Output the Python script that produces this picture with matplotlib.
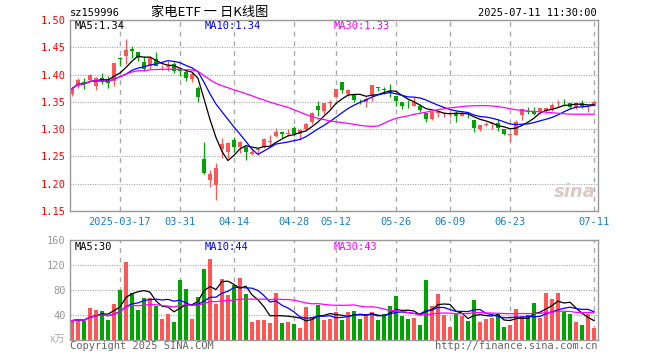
import numpy as np
import pandas as pd
import matplotlib
matplotlib.use("Agg")
import matplotlib.pyplot as plt

# trading days shown (weekdays minus exchange holidays)
holidays = ["2025-04-04", "2025-05-01", "2025-05-02", "2025-05-05", "2025-06-02"]
dates = pd.bdate_range("2025-03-05", "2025-07-11")
dates = dates[~dates.isin(pd.to_datetime(holidays))]

opens = [1.365, 1.379, 1.386, 1.390, 1.379, 1.394, 1.391, 1.389, 1.430, 1.434,
         1.446, 1.442, 1.423, 1.416, 1.428, 1.413, 1.414, 1.419, 1.409, 1.404,
         1.392, 1.376, 1.245, 1.206, 1.198, 1.263, 1.258, 1.280, 1.267, 1.268,
         1.254, 1.261, 1.268, 1.276, 1.287, 1.295, 1.291, 1.302, 1.292, 1.300,
         1.313, 1.342, 1.333, 1.348, 1.359, 1.387, 1.365, 1.365, 1.352, 1.349,
         1.360, 1.377, 1.373, 1.369, 1.361, 1.350, 1.343, 1.343, 1.343, 1.329,
         1.318, 1.330, 1.329, 1.329, 1.329, 1.324, 1.328, 1.317, 1.301, 1.308,
         1.310, 1.311, 1.301, 1.289, 1.290, 1.326, 1.334, 1.333, 1.333, 1.333,
         1.336, 1.347, 1.350, 1.348, 1.340, 1.347, 1.342, 1.343]
highs = [1.377, 1.393, 1.394, 1.401, 1.395, 1.402, 1.398, 1.421, 1.432, 1.465,
         1.453, 1.442, 1.434, 1.434, 1.441, 1.418, 1.425, 1.423, 1.413, 1.410,
         1.404, 1.379, 1.277, 1.226, 1.238, 1.284, 1.277, 1.286, 1.278, 1.270,
         1.265, 1.266, 1.283, 1.289, 1.303, 1.297, 1.300, 1.306, 1.300, 1.311,
         1.332, 1.351, 1.348, 1.353, 1.373, 1.387, 1.374, 1.365, 1.356, 1.358,
         1.381, 1.377, 1.377, 1.382, 1.361, 1.350, 1.353, 1.359, 1.346, 1.329,
         1.333, 1.333, 1.332, 1.332, 1.333, 1.333, 1.330, 1.317, 1.308, 1.313,
         1.313, 1.318, 1.301, 1.291, 1.316, 1.338, 1.341, 1.340, 1.338, 1.338,
         1.348, 1.353, 1.356, 1.348, 1.350, 1.353, 1.344, 1.352]
lows = [1.360, 1.376, 1.374, 1.389, 1.371, 1.383, 1.375, 1.379, 1.416, 1.420,
        1.430, 1.424, 1.406, 1.410, 1.415, 1.409, 1.407, 1.402, 1.398, 1.389,
        1.386, 1.350, 1.217, 1.194, 1.170, 1.248, 1.248, 1.258, 1.256, 1.244,
        1.252, 1.253, 1.266, 1.271, 1.286, 1.284, 1.287, 1.287, 1.280, 1.296,
        1.309, 1.325, 1.328, 1.339, 1.357, 1.367, 1.360, 1.350, 1.346, 1.341,
        1.352, 1.369, 1.365, 1.359, 1.342, 1.336, 1.338, 1.342, 1.331, 1.314,
        1.316, 1.322, 1.322, 1.322, 1.313, 1.324, 1.320, 1.295, 1.297, 1.305,
        1.301, 1.296, 1.290, 1.277, 1.289, 1.316, 1.327, 1.326, 1.327, 1.328,
        1.333, 1.340, 1.342, 1.336, 1.336, 1.338, 1.331, 1.343]
closes = [1.374, 1.390, 1.385, 1.400, 1.394, 1.386, 1.384, 1.421, 1.429, 1.445,
          1.444, 1.430, 1.411, 1.430, 1.416, 1.414, 1.415, 1.407, 1.406, 1.394,
          1.401, 1.358, 1.219, 1.217, 1.229, 1.272, 1.275, 1.267, 1.276, 1.259,
          1.259, 1.264, 1.282, 1.279, 1.294, 1.291, 1.293, 1.292, 1.299, 1.309,
          1.330, 1.335, 1.347, 1.350, 1.373, 1.371, 1.371, 1.353, 1.351, 1.355,
          1.381, 1.376, 1.372, 1.367, 1.351, 1.343, 1.342, 1.349, 1.335, 1.319,
          1.331, 1.331, 1.330, 1.330, 1.324, 1.329, 1.327, 1.303, 1.307, 1.309,
          1.311, 1.302, 1.292, 1.290, 1.314, 1.336, 1.332, 1.328, 1.338, 1.338,
          1.345, 1.348, 1.349, 1.340, 1.348, 1.342, 1.343, 1.350]
# volume in 万 shares
volumes = [31, 33.6, 30.4, 50.7, 48, 46.4, 32, 57.6, 80, 124.8,
           75.7, 48, 67.2, 67.2, 54.4, 33.6, 41.6, 28.8, 96, 81.6,
           33.6, 69.3, 113.6, 129.6, 57.6, 97.6, 72, 88, 99.2, 73.6,
           28.8, 32, 32, 27.2, 75.2, 27.2, 28.8, 25.6, 19.2, 52.8,
           36.8, 56, 32, 33.6, 44.8, 32, 44.8, 46.4, 33.6, 41.6,
           44.8, 32, 41.6, 54.4, 70.4, 38.4, 33.6, 35.2, 24, 96,
           54.4, 73.6, 40, 20.8, 41.6, 38.4, 30.4, 64, 28.8, 33.6,
           35.2, 41.6, 20.8, 24, 49.6, 38.4, 40, 59.2, 35.2, 75.2,
           65.6, 75.2, 44.8, 41.6, 28.8, 24, 41.6, 19.2]

tick_dates = ["2025-03-17", "2025-03-31", "2025-04-14", "2025-04-28", "2025-05-12",
              "2025-05-26", "2025-06-09", "2025-06-23", "2025-07-11"]
tick_labels = ["2025-03-17", "03-31", "04-14", "04-28", "05-12",
               "05-26", "06-09", "06-23", "07-11"]
price_ma_labels = ["MA5:1.34", "MA10:1.34", "MA30:1.33"]
vol_ma_labels = ["MA5:30", "MA10:44", "MA30:43"]

RED = "#ff5555"
GREEN = "#00a400"
MA_COLORS = ["black", "#0000ff", "#ff00ff"]
MONO = "DejaVu Sans Mono"
CJK = ["Noto Sans CJK SC", "DejaVu Sans"]
W, H = 660, 360

o = np.array(opens)
c = np.array(closes)
x = np.arange(len(c))
colors = np.where(c >= o, RED, GREEN)
tick_pos = [dates.get_loc(pd.Timestamp(d)) for d in tick_dates]

fig = plt.figure(figsize=(W / 100, H / 100), dpi=100)
ax = fig.add_axes([70 / W, 1 - 211 / H, 528 / W, 191 / H])
axv = fig.add_axes([70 / W, 1 - 340 / H, 528 / W, 100 / H])


def style_axes(a):
    a.set_xlim(-0.33, len(x) - 0.33)
    a.set_xticks(tick_pos)
    for s in a.spines.values():
        s.set_color("#999999")
        s.set_linewidth(1)
    a.grid(axis="x", color="#aaaaaa", lw=1, linestyle=(0, (3.5, 3.5)))
    a.grid(axis="y", color="#aaaaaa", lw=0.8, linestyle=(0, (1, 1.2)))
    a.set_axisbelow(True)
    a.tick_params(length=0)


# price panel
style_axes(ax)
ax.vlines(x, lows, highs, colors=colors, lw=0.9)
ax.bar(x, np.maximum(np.abs(c - o), 0.0012), bottom=np.minimum(o, c),
       width=0.8, color=colors)
for n, col in zip([5, 10, 30], MA_COLORS):
    ax.plot(x, pd.Series(c).rolling(n, min_periods=1).mean(), color=col, lw=0.9)
ax.set_ylim(1.15, 1.50)
ax.set_yticks(np.arange(1.15, 1.501, 0.05))
ax.set_yticklabels(["%.2f" % v for v in np.arange(1.15, 1.501, 0.05)],
                   color="red", fontsize=7.5, family=MONO)
ax.set_xticklabels(tick_labels, color="#1580d6", fontsize=7.5, family=MONO)
ax.tick_params(axis="y", pad=3)
ax.tick_params(axis="x", pad=4)
for lbl, xp, col in zip(price_ma_labels, [0.0095, 0.2557, 0.5], MA_COLORS):
    ax.text(xp, 0.968, lbl, transform=ax.transAxes, color=col, fontsize=7.5,
            family=MONO, va="center", ha="left")
ax.text(0.995, 0.1, "sina", transform=ax.transAxes, color="#dcc8c8",
        fontsize=13, fontweight="bold", style="italic", ha="right", va="center")

# volume panel
style_axes(axv)
axv.bar(x, volumes, width=0.8, color=colors)
for n, col in zip([5, 10, 30], MA_COLORS):
    axv.plot(x, pd.Series(volumes).rolling(n, min_periods=1).mean(), color=col, lw=0.9)
axv.set_ylim(0, 160)
axv.set_yticks([40, 80, 120, 160])
axv.set_yticklabels(["40", "80", "120", "160"], color="#999999", fontsize=7.5, family=MONO)
axv.set_xticklabels([])
axv.tick_params(axis="y", pad=3)
axv.text(-0.008, 0, "x万", transform=axv.get_yaxis_transform(), color="#aaaaaa",
         fontsize=7.5, family=CJK, style="italic", ha="right", va="center")
for lbl, xp, col in zip(vol_ma_labels, [0.0095, 0.2557, 0.5], MA_COLORS):
    axv.text(xp, 0.933, lbl, transform=axv.transAxes, color=col, fontsize=7.5,
             family=MONO, va="center", ha="left")

# header and footer
fig.text(70 / W, 1 - 13 / H, "sz159996", fontsize=7.5, family=MONO, va="center")
fig.text(210 / W, 1 - 12 / H, "家电ETF 一 日K线图", fontsize=9.5, family=CJK,
         ha="center", va="center")
fig.text(597 / W, 1 - 13 / H, "2025-07-11 11:30:00", fontsize=7.5, family=MONO,
         ha="right", va="center")
fig.text(70 / W, 1 - 346 / H, "Copyright 2025 SINA.COM", fontsize=7.5, family=MONO,
         color="#666666", va="center")
fig.text(597 / W, 1 - 346 / H, "http://finance.sina.com.cn", fontsize=7.5, family=MONO,
         color="#666666", ha="right", va="center")

fig.savefig("out.png", dpi=100)
